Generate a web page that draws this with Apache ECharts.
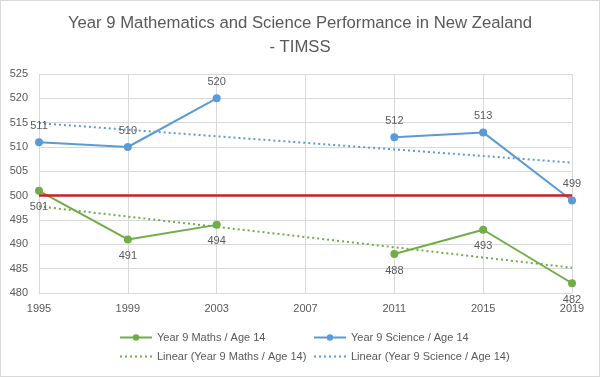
<!DOCTYPE html>
<html><head><meta charset="utf-8">
<script src="https://cdn.jsdelivr.net/npm/echarts@6/dist/echarts.min.js"></script>
<style>html,body{margin:0;padding:0;background:#fff}#c{width:600px;height:377px;box-sizing:border-box;border:1px solid #d9d9d9}</style>
</head><body><div id="c"></div>
<script>
const years = ['1995','1999','2003','2007','2011','2015','2019'];
const maths = [501, 491, 494, null, 488, 493, 482];
const science = [511, 510, 520, null, 512, 513, 499];
const mathsTrend = [497.8, null, null, null, null, null, 485.2];
const scienceTrend = [514.9, null, null, null, null, null, 506.8];
const benchmark = 500;
const yTicks = {min: 480, max: 525, interval: 5};

const txt = '#595959', font = 'Liberation Sans';
const green = '#70ad47', blue = '#5b9bd5';
const chart = echarts.init(document.getElementById('c'));
const legendCommon = {top: 326, orient: 'vertical', itemGap: 8, itemWidth: 32, itemHeight: 8,
  textStyle: {color: txt, fontSize: 11, fontFamily: font}};
chart.setOption({
  animation: false,
  textStyle: {fontFamily: font},
  title: {text: 'Year 9 Mathematics and Science Performance in New Zealand\n- TIMSS', left: 'center', top: 5,
    textStyle: {color: txt, fontSize: 16.7, fontWeight: 'normal', lineHeight: 24, fontFamily: font}},
  grid: {left: 38, right: 27, top: 73, bottom: 83},
  legend: [
    Object.assign({left: 113, data: ['Year 9 Maths / Age 14', {name: 'Linear (Year 9 Maths / Age 14)', itemStyle: {opacity: 0}}]}, legendCommon),
    Object.assign({left: 307, data: ['Year 9 Science / Age 14', {name: 'Linear (Year 9 Science / Age 14)', itemStyle: {opacity: 0}}]}, legendCommon)
  ],
  xAxis: {type: 'category', data: years, boundaryGap: false,
    axisLine: {lineStyle: {color: '#d9d9d9'}}, axisTick: {show: false},
    axisLabel: {color: txt, fontSize: 11, margin: 10},
    splitLine: {show: true, lineStyle: {color: '#d9d9d9'}}},
  yAxis: {type: 'value', min: yTicks.min, max: yTicks.max, interval: yTicks.interval,
    axisLine: {show: false}, axisTick: {show: false},
    axisLabel: {color: txt, fontSize: 11, margin: 11},
    splitLine: {lineStyle: {color: '#d9d9d9'}}},
  series: [
    {name: 'Year 9 Maths / Age 14', type: 'line', data: maths, color: green, symbol: 'circle', symbolSize: 8,
     lineStyle: {width: 2}, label: {show: true, position: 'bottom', distance: 7, color: txt, fontSize: 11},
     z: 3,
     markLine: {silent: true, symbol: 'none', label: {show: false}, lineStyle: {color: '#c82020', width: 2.5, type: 'solid'},
       data: [{yAxis: benchmark}]}},
    {name: 'Year 9 Science / Age 14', type: 'line', data: science, color: blue, symbol: 'circle', symbolSize: 8,
     lineStyle: {width: 2}, label: {show: true, position: 'top', distance: 7, color: txt, fontSize: 11}, z: 3},
    {name: 'Linear (Year 9 Maths / Age 14)', type: 'line', data: mathsTrend, connectNulls: true, color: green,
     showSymbol: false, symbol: 'none', lineStyle: {width: 2, type: [2, 3]}, z: 2},
    {name: 'Linear (Year 9 Science / Age 14)', type: 'line', data: scienceTrend, connectNulls: true, color: blue,
     showSymbol: false, symbol: 'none', lineStyle: {width: 2, type: [2, 3]}, z: 2}
  ]
});
</script></body></html>
